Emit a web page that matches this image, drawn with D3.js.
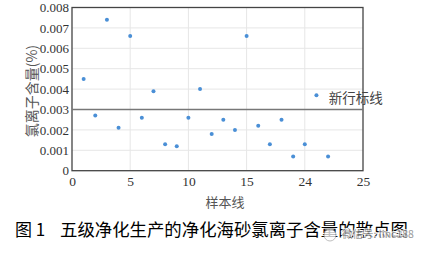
<!DOCTYPE html>
<html>
<head>
<meta charset="utf-8">
<script src="https://cdn.jsdelivr.net/npm/d3@7"></script>
<style>
  body { margin: 0; background: #fff; }
  .tick text { font-family: "Liberation Serif", "Times New Roman", serif; }
</style>
</head>
<body>
<script>
const width = 423;
const height = 258;

// sample index and chloride content (%)
const samples = [1, 2, 3, 4, 5, 6, 7, 8, 9, 10, 11, 12, 13, 14, 15, 16, 17, 18, 19, 20, 21, 22];
const chloride = [0.0045, 0.0027, 0.0074, 0.0021, 0.0066, 0.0026, 0.0039, 0.0013, 0.0012, 0.0026, 0.0040,
    0.0018, 0.0025, 0.0020, 0.0066, 0.0022, 0.0013, 0.0025, 0.0007, 0.0013, 0.0037, 0.0007];
const xTicks = [0, 5, 10, 15, 20, 25];
const xTickLabels = ["0", "5", "10", "15", "24", "25"];
const yTicks = [0, 0.001, 0.002, 0.003, 0.004, 0.005, 0.006, 0.007, 0.008];
const refValue = 0.003;

const margin = { left: 72, right: 60, top: 7.5, bottom: 87.3 };
const cjk = "'Noto Sans CJK SC', sans-serif";

const svg = d3.select("body")
    .append("svg")
    .attr("width", width)
    .attr("height", height);

const x = d3.scaleLinear().domain([0, 25]).range([margin.left, width - margin.right]);
const y = d3.scaleLinear().domain([0, 0.008]).range([height - margin.bottom, margin.top]);

// grid lines
svg.append("g").selectAll("line")
    .data(xTicks.slice(1, -1))
    .enter().append("line")
    .attr("x1", d => x(d)).attr("x2", d => x(d))
    .attr("y1", y(0.008)).attr("y2", y(0))
    .attr("stroke", "#e6e6e6").attr("stroke-width", 1);

svg.append("g").selectAll("line")
    .data(yTicks.slice(1, -1))
    .enter().append("line")
    .attr("x1", x(0)).attr("x2", x(25))
    .attr("y1", d => y(d)).attr("y2", d => y(d))
    .attr("stroke", "#e6e6e6").attr("stroke-width", 1);

// frame
svg.append("rect")
    .attr("x", x(0)).attr("y", y(0.008))
    .attr("width", x(25) - x(0)).attr("height", y(0) - y(0.008))
    .attr("fill", "none").attr("stroke", "#444").attr("stroke-width", 1.3);

// axes
const xAxis = svg.append("g")
    .attr("transform", `translate(0,${y(0)})`)
    .call(d3.axisBottom(x).tickValues(xTicks).tickSize(0).tickPadding(6)
        .tickFormat((d, i) => xTickLabels[i]))
    .attr("font-family", null)
    .attr("font-size", 13.5);
xAxis.select(".domain").remove();
xAxis.selectAll("text").attr("fill", "#333");

const yAxis = svg.append("g")
    .attr("transform", `translate(${x(0)},0)`)
    .call(d3.axisLeft(y).tickValues(yTicks).tickSize(0).tickPadding(3)
        .tickFormat(d => d === 0 ? "0" : d3.format(".3f")(d)))
    .attr("font-family", null)
    .attr("font-size", 13);
yAxis.select(".domain").remove();
yAxis.selectAll("text").attr("fill", "#333");

// reference line
svg.append("line")
    .attr("x1", x(0)).attr("x2", x(25))
    .attr("y1", y(refValue)).attr("y2", y(refValue))
    .attr("stroke", "#777").attr("stroke-width", 1.5);

svg.append("text")
    .attr("x", x(22.05))
    .attr("y", y(refValue) - 7)
    .style("font-family", cjk)
    .style("font-size", "13.5px")
    .attr("fill", "#444")
    .text("新行标线");

// points
svg.append("g").selectAll("circle")
    .data(samples)
    .enter().append("circle")
    .attr("cx", d => x(d))
    .attr("cy", (d, i) => y(chloride[i]))
    .attr("r", 2)
    .attr("fill", "#4a8fd6");

// axis titles
svg.append("text")
    .attr("transform", `translate(37,${(y(0) + y(0.008)) / 2 + 2}) rotate(-90)`)
    .attr("text-anchor", "middle")
    .style("font-family", cjk)
    .style("font-size", "14px")
    .attr("fill", "#555")
    .text("氯离子含量(%)");

svg.append("text")
    .attr("x", 225)
    .attr("y", 207)
    .attr("text-anchor", "middle")
    .style("font-family", cjk)
    .style("font-size", "13px")
    .attr("fill", "#555")
    .text("样本线");

// caption
svg.append("text")
    .attr("x", 15)
    .attr("y", 236)
    .style("font-family", cjk)
    .style("font-size", "17px")
    .attr("fill", "#000")
    .text("图 1");

svg.append("text")
    .attr("x", 60)
    .attr("y", 236)
    .style("font-family", cjk)
    .style("font-size", "17.4px")
    .attr("fill", "#000")
    .text("五级净化生产的净化海砂氯离子含量的散点图");

// watermark
const wm = svg.append("g").attr("opacity", 0.75);
wm.append("circle")
    .attr("cx", 330).attr("cy", 235).attr("r", 6)
    .attr("fill", "#fff").attr("stroke", "#aaa").attr("stroke-width", 1);
wm.append("text")
    .attr("x", 342)
    .attr("y", 238)
    .style("font-family", cjk)
    .style("font-size", "10.5px")
    .attr("fill", "#777")
    .attr("stroke", "#fff")
    .attr("stroke-width", 2)
    .attr("paint-order", "stroke")
    .text("微信号: linc188");
</script>
</body>
</html>
